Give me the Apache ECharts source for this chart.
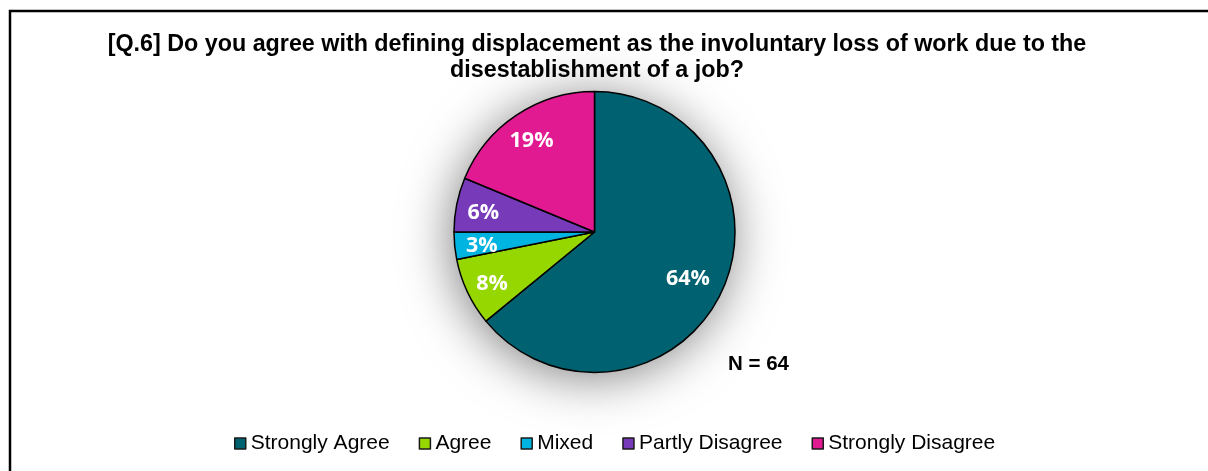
<!DOCTYPE html>
<html>
<head>
<meta charset="utf-8">
<script src="https://cdn.jsdelivr.net/npm/echarts@6/dist/echarts.min.js"></script>
<style>
html,body{margin:0;padding:0;background:#fff;}
#chart{width:1208px;height:471px;}
</style>
</head>
<body>
<div id="chart"></div>
<script>
// Data
const categories = ['Strongly Agree', 'Agree', 'Mixed', 'Partly Disagree', 'Strongly Disagree'];
const counts = [41, 5, 2, 4, 12];
const colors = ['#006170', '#97D700', '#00B4E2', '#773BBA', '#E11A92'];
const titleText = '[Q.6] Do you agree with defining displacement as the involuntary loss of work due to the\ndisestablishment of a job?';
const noteText = 'N = 64';

const total = counts.reduce((a, b) => a + b, 0);
const pieData = categories.map((name, i) => ({
  name: name,
  value: counts[i],
  itemStyle: { color: colors[i] }
}));

const center = [594.5, 232];
const R = 140.5;

const chart = echarts.init(document.getElementById('chart'), null, { renderer: 'canvas' });
chart.setOption({
  backgroundColor: '#ffffff',
  animation: false,
  title: [
    {
      text: titleText,
      left: 592,
      top: 27,
      textAlign: 'center',
      textStyle: {
        fontFamily: 'Liberation Sans, Arial, sans-serif',
        fontWeight: 'bold',
        fontSize: 23.3,
        lineHeight: 26,
        color: '#000'
      }
    },
    {
      text: noteText,
      left: 723,
      top: 349,
      textStyle: {
        fontFamily: 'Liberation Sans, Arial, sans-serif',
        fontWeight: 'bold',
        fontSize: 20.5,
        color: '#000'
      }
    }
  ],
  legend: {
    data: categories,
    bottom: 12,
    left: 229,
    icon: 'rect',
    itemWidth: 11,
    itemHeight: 11,
    itemGap: 29,
    textStyle: {
      fontFamily: 'Liberation Sans, Arial, sans-serif',
      fontSize: 21,
      color: '#000'
    },
    itemStyle: { borderColor: '#1a1a1a', borderWidth: 1.5 }
  },
  graphic: [
    {
      type: 'rect',
      silent: true,
      shape: { x: 10, y: 11, width: 1400, height: 800 },
      style: { fill: 'none', stroke: '#000', lineWidth: 2.5 },
      z: 100
    }
  ],
  series: [
    {
      type: 'pie',
      name: 'shadow',
      silent: true,
      center: center,
      radius: [0, R],
      label: { show: false },
      labelLine: { show: false },
      data: [{ value: 1, name: '__bg' }],
      itemStyle: {
        color: '#ffffff',
        shadowColor: 'rgba(0,0,0,0.5)',
        shadowBlur: 50,
        shadowOffsetX: -3,
        shadowOffsetY: 5
      },
      z: 1
    },
    {
      type: 'pie',
      name: 'Q6',
      silent: true,
      center: center,
      radius: [0, R],
      startAngle: 90,
      clockwise: true,
      data: pieData,
      label: { show: false },
      labelLine: { show: false },
      itemStyle: { borderColor: '#000', borderWidth: 1.5 },
      z: 2
    },
    {
      type: 'pie',
      name: 'labels',
      silent: true,
      center: center,
      radius: [R * 0.57, R],
      startAngle: 90,
      clockwise: true,
      data: categories.map((name, i) => ({ name: name, value: counts[i] })),
      itemStyle: { color: 'rgba(0,0,0,0)', borderWidth: 0 },
      label: {
        show: true,
        position: 'inside',
        formatter: p => Math.round(p.value / total * 100) + '%',
        fontFamily: 'Open Sans, sans-serif',
        fontWeight: 'bold',
        fontSize: 21.5,
        color: '#ffffff'
      },
      labelLayout: p => (p.dataIndex === 0 ? { dx: -9, dy: -2 } : { dx: 0, dy: 3 }),
      labelLine: { show: false },
      z: 3
    }
  ]
});
</script>
</body>
</html>
